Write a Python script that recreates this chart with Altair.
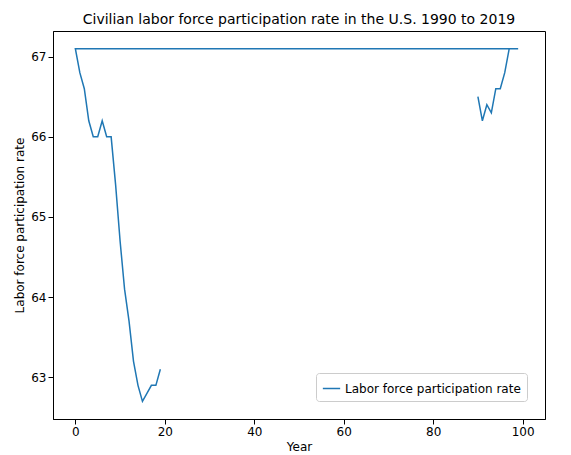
import altair as alt
import pandas as pd

years = list(range(1990, 2020))
rates = [66.5, 66.2, 66.4, 66.3, 66.6, 66.6, 66.8, 67.1, 67.1, 67.1,
         67.1, 66.8, 66.6, 66.2, 66.0, 66.0, 66.2, 66.0, 66.0, 65.4,
         64.7, 64.1, 63.7, 63.2, 62.9, 62.7, 62.8, 62.9, 62.9, 63.1]

df = pd.DataFrame({
    "Year": [y % 100 for y in years],
    "Rate": rates,
    "idx": list(range(len(years))),
    "series": "Labor force participation rate",
})

chart = alt.Chart(df).mark_line(strokeWidth=1.5).encode(
    x=alt.X("Year:Q", scale=alt.Scale(domain=[-5, 105], nice=False, zero=False),
            axis=alt.Axis(values=[0, 20, 40, 60, 80, 100], grid=False, title="Year",
                          titleFontWeight="normal", titleFontSize=12, labelFontSize=12)),
    y=alt.Y("Rate:Q", scale=alt.Scale(domain=[62.48, 67.32], nice=False, zero=False),
            axis=alt.Axis(values=[63, 64, 65, 66, 67], grid=False,
                          title="Labor force participation rate",
                          titleFontWeight="normal", titleFontSize=12, labelFontSize=12)),
    order="idx:Q",
    color=alt.Color("series:N", scale=alt.Scale(range=["#1f77b4"]),
                    legend=alt.Legend(title=None, orient="bottom-right", labelFontSize=12,
                                      labelLimit=0,
                                      symbolType="stroke", symbolSize=300,
                                      strokeColor="#cccccc", padding=6, cornerRadius=3,
                                      fillColor="white")),
).properties(
    width=492, height=388,
    title=alt.TitleParams("Civilian labor force participation rate in the U.S. 1990 to 2019",
                          fontSize=14, fontWeight="normal"),
).configure_view(stroke="black").configure_axis(
    domainColor="black", tickColor="black", labelColor="black", titleColor="black",
    labelFont="DejaVu Sans", titleFont="DejaVu Sans"
).configure_title(font="DejaVu Sans").configure_legend(labelFont="DejaVu Sans")

chart.save("out.html", embed_options={"renderer": "svg", "actions": False})
